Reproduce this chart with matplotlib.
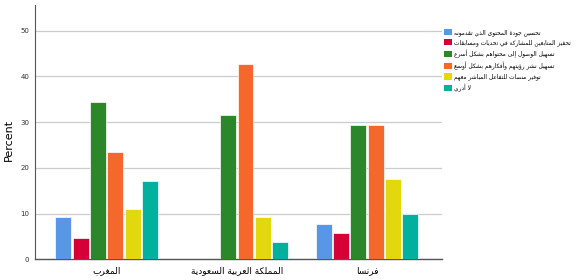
import numpy as np
import matplotlib.pyplot as plt
from matplotlib.patches import Patch

# values (percent)
countries = ["المغرب", "المملكة العربية السعودية", "فرنسا"]
answers = [
    "تحسين جودة المحتوى الذي تقدمونه",
    "تحفيز المتابعين للمشاركة في تحديات ومسابقات",
    "تسهيل الوصول إلى محتواهم بشكل أسرع",
    "تسهيل نشر رؤيتهم وأفكارهم بشكل أوسع",
    "توفير منصات للتفاعل المباشر معهم",
    "لا أدري",
]
improve = [9.3, 0.0, 7.7]
motivate = [4.7, 0.0, 5.8]
access = [34.3, 31.5, 29.4]
spread = [23.5, 42.6, 29.4]
platforms = [10.9, 9.3, 17.6]
dunno = [17.2, 3.7, 9.8]
colors = ["#5897e6", "#d60036", "#2b872a", "#f4682c", "#e3d80d", "#01b19e"]
yticks = [0, 10, 20, 30, 40, 50]


# matplotlib does no arabic shaping: map letters to presentation forms
# (isolated, final, initial, medial) and reverse for right-to-left display
FORMS = {}
for ch, start, n in [("آ", 0xFE81, 2), ("أ", 0xFE83, 2), ("ؤ", 0xFE85, 2),
                     ("إ", 0xFE87, 2), ("ئ", 0xFE89, 4), ("ا", 0xFE8D, 2),
                     ("ب", 0xFE8F, 4), ("ة", 0xFE93, 2), ("ت", 0xFE95, 4),
                     ("ث", 0xFE99, 4), ("ج", 0xFE9D, 4), ("ح", 0xFEA1, 4),
                     ("خ", 0xFEA5, 4), ("د", 0xFEA9, 2), ("ذ", 0xFEAB, 2),
                     ("ر", 0xFEAD, 2), ("ز", 0xFEAF, 2), ("س", 0xFEB1, 4),
                     ("ش", 0xFEB5, 4), ("ص", 0xFEB9, 4), ("ض", 0xFEBD, 4),
                     ("ط", 0xFEC1, 4), ("ظ", 0xFEC5, 4), ("ع", 0xFEC9, 4),
                     ("غ", 0xFECD, 4), ("ف", 0xFED1, 4), ("ق", 0xFED5, 4),
                     ("ك", 0xFED9, 4), ("ل", 0xFEDD, 4), ("م", 0xFEE1, 4),
                     ("ن", 0xFEE5, 4), ("ه", 0xFEE9, 4), ("و", 0xFEED, 2),
                     ("ى", 0xFEEF, 2), ("ي", 0xFEF1, 4)]:
    f = [chr(start + k) for k in range(n)]
    FORMS[ch] = f if n == 4 else f + [None, None]
LAM_ALEF = {"آ": 0xFEF5, "أ": 0xFEF7, "إ": 0xFEF9, "ا": 0xFEFB}


def shape(text):
    # merge lam + alef into ligature tokens first
    toks = []
    i = 0
    while i < len(text):
        if text[i] == "ل" and i + 1 < len(text) and text[i + 1] in LAM_ALEF:
            toks.append(("LA", text[i + 1]))
            i += 2
        else:
            toks.append((text[i], None))
            i += 1

    def dual(t):
        return t[0] in FORMS and FORMS[t[0]][2] is not None

    def joins(t):
        return t[0] == "LA" or t[0] in FORMS

    out = []
    for i, t in enumerate(toks):
        prev = i > 0 and dual(toks[i - 1]) and joins(t)
        if t[0] == "LA":
            out.append(chr(LAM_ALEF[t[1]] + (1 if prev else 0)))
            continue
        if t[0] not in FORMS:
            out.append(t[0])
            continue
        nxt = dual(t) and i + 1 < len(toks) and joins(toks[i + 1])
        f = FORMS[t[0]]
        if prev and nxt:
            out.append(f[3])
        elif prev:
            out.append(f[1])
        elif nxt:
            out.append(f[2])
        else:
            out.append(f[0])
    return "".join(out)[::-1]


series = [improve, motivate, access, spread, platforms, dunno]

fig = plt.figure(figsize=(5.8, 2.8), dpi=100)
ax = fig.add_axes([0.06, 0.074, 0.702, 0.908])

x = np.arange(len(countries))
step = 0.133
for k, vals in enumerate(series):
    ax.bar(x + (k - 2.5) * step, vals, width=0.122, color=colors[k],
           edgecolor="white", linewidth=0.5, zorder=3)

ax.set_xlim(-0.552, 2.575)
ax.set_ylim(0, 55.6)
ax.set_yticks(yticks)
ax.set_yticklabels([str(v) for v in yticks], fontsize=5, color="#333333")
ax.grid(axis="y", color="#cccccc", linewidth=0.9, zorder=0)
ax.set_xticks(x)
ax.set_xticklabels([shape(c) for c in countries], fontsize=6.5,
                   family="DejaVu Sans")
ax.tick_params(length=0, pad=5)
ax.tick_params(axis="y", pad=4)
ax.set_ylabel("Percent", fontsize=8)
ax.yaxis.set_label_coords(-0.052, 0.47)
for side in ["top", "right"]:
    ax.spines[side].set_visible(False)
ax.spines["left"].set_color("#555555")
ax.spines["bottom"].set_color("#555555")
ax.spines["left"].set_linewidth(0.8)
ax.spines["bottom"].set_linewidth(1.0)

handles = [Patch(facecolor=c, edgecolor="none") for c in colors]
fig.legend(handles, [shape(a) for a in answers], loc="upper left",
           bbox_to_anchor=(0.762, 0.905), frameon=False, fontsize=4.2,
           handlelength=1.25, handleheight=1.25, handletextpad=0.35,
           labelspacing=0.6, borderaxespad=0)

fig.savefig("out.png", dpi=100)
